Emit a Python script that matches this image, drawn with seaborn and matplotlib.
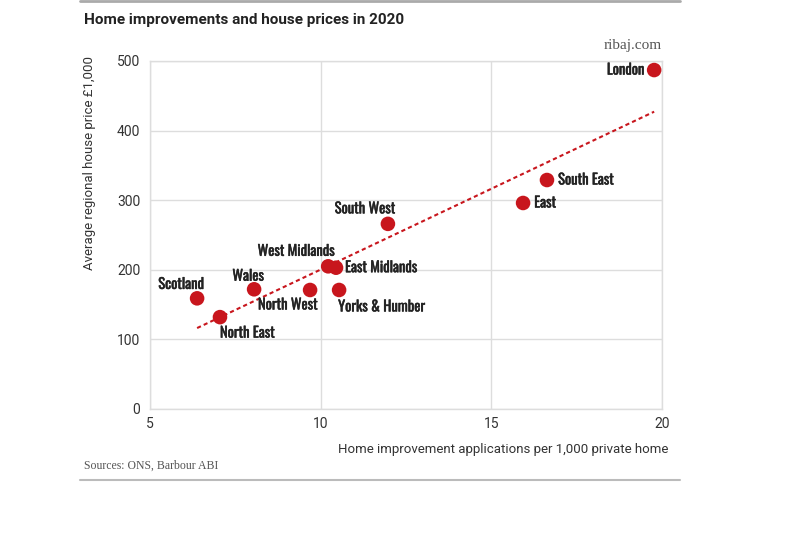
import matplotlib
matplotlib.use("Agg")
import matplotlib.pyplot as plt
import matplotlib.patheffects as pe
import seaborn as sns
import pandas as pd

regions = ["London", "South East", "East", "South West", "West Midlands",
           "East Midlands", "Yorks & Humber", "North West", "Wales",
           "Scotland", "North East"]
applications = [19.77, 16.63, 15.93, 11.97, 10.22, 10.45, 10.54, 9.69, 8.05, 6.38, 7.05]
prices = [487, 329, 296, 266, 205, 203, 171, 171, 172, 159, 132]
x_ticks = [5, 10, 15, 20]
y_ticks = [0, 100, 200, 300, 400, 500]

df = pd.DataFrame({"region": regions, "x": applications, "y": prices})

sns.set_theme(style="white")
plt.rcParams['font.family'] = ['Roboto', 'DejaVu Sans']

fig = plt.figure(figsize=(8, 5.35), dpi=100)
ax = fig.add_axes([150/800, 1-409/535, 512/800, 348/535])

red = "#c8161d"
sns.regplot(data=df, x="x", y="y", ax=ax, ci=None, scatter=False, truncate=True,
            line_kws=dict(color=red, lw=1.5, ls=(0, (2.0, 1.5))))
sns.scatterplot(data=df, x="x", y="y", ax=ax, color=red, s=110, edgecolor="none", zorder=5)

ax.set_xlim(5, 20)
ax.set_ylim(0, 500)
ax.set_xticks(x_ticks)
ax.set_yticks(y_ticks)
ax.grid(True, color="#dddddd", lw=1)
ax.set_axisbelow(True)
for s in ax.spines.values():
    s.set_color("#dddddd")
    s.set_linewidth(1)
ax.tick_params(axis="both", length=0, labelsize=10, colors="#333333")
ax.tick_params(axis="x", pad=6)
ax.tick_params(axis="y", pad=7)
ax.set_xlabel("")
ax.set_ylabel("")

# (dx, dy) in points, ha
offsets = {
    "London": (-7, 0, "right"),
    "South East": (8, 0, "left"),
    "East": (8, 0, "left"),
    "South West": (-16.5, 10.8, "center"),
    "West Midlands": (-23, 10.8, "center"),
    "East Midlands": (6.5, 0, "left"),
    "Yorks & Humber": (-0.7, -12.2, "left"),
    "North West": (-16, -10.8, "center"),
    "Wales": (-4.3, 9.4, "center"),
    "Scotland": (-11.5, 10, "center"),
    "North East": (0, -11.5, "left"),
}
lab_font = dict(family=["Oswald", "Roboto Condensed", "DejaVu Sans"], size=10.5, color="#222222")
for r, xv, yv in zip(regions, applications, prices):
    dx, dy, ha = offsets[r]
    t = ax.annotate(r, (xv, yv), xytext=(dx, dy), textcoords="offset points",
                    ha=ha, va="center", **lab_font)
    t.set_path_effects([pe.withStroke(linewidth=0.35, foreground="#222222")])

fig.text(84/800, 1-20/535, "Home improvements and house prices in 2020",
         ha="left", va="center", fontsize=11, fontweight="bold", color="#222222")
fig.text(662/800, 1-45/535, "ribaj.com", ha="right", va="center",
         fontsize=11, family=["Liberation Serif", "DejaVu Serif"], color="#555555")
fig.text(90/800, 1-163/535, "Average regional house price £1,000", rotation=90,
         ha="center", va="center", fontsize=9.5, color="#333333")
fig.text(668/800, 1-450/535, "Home improvement applications per 1,000 private home",
         ha="right", va="center", fontsize=9.5, color="#333333")
fig.text(84/800, 1-466/535, "Sources: ONS, Barbour ABI", ha="left", va="center",
         fontsize=8.5, family=["Liberation Serif", "DejaVu Serif"], color="#555555")

fig.add_artist(plt.Line2D([80/800, 680/800], [1-1/535, 1-1/535], color="#aaaaaa", lw=2))
fig.add_artist(plt.Line2D([80/800, 680/800], [1-480/535, 1-480/535], color="#bbbbbb", lw=1.5))

fig.savefig("out.png", dpi=100, facecolor="white")
